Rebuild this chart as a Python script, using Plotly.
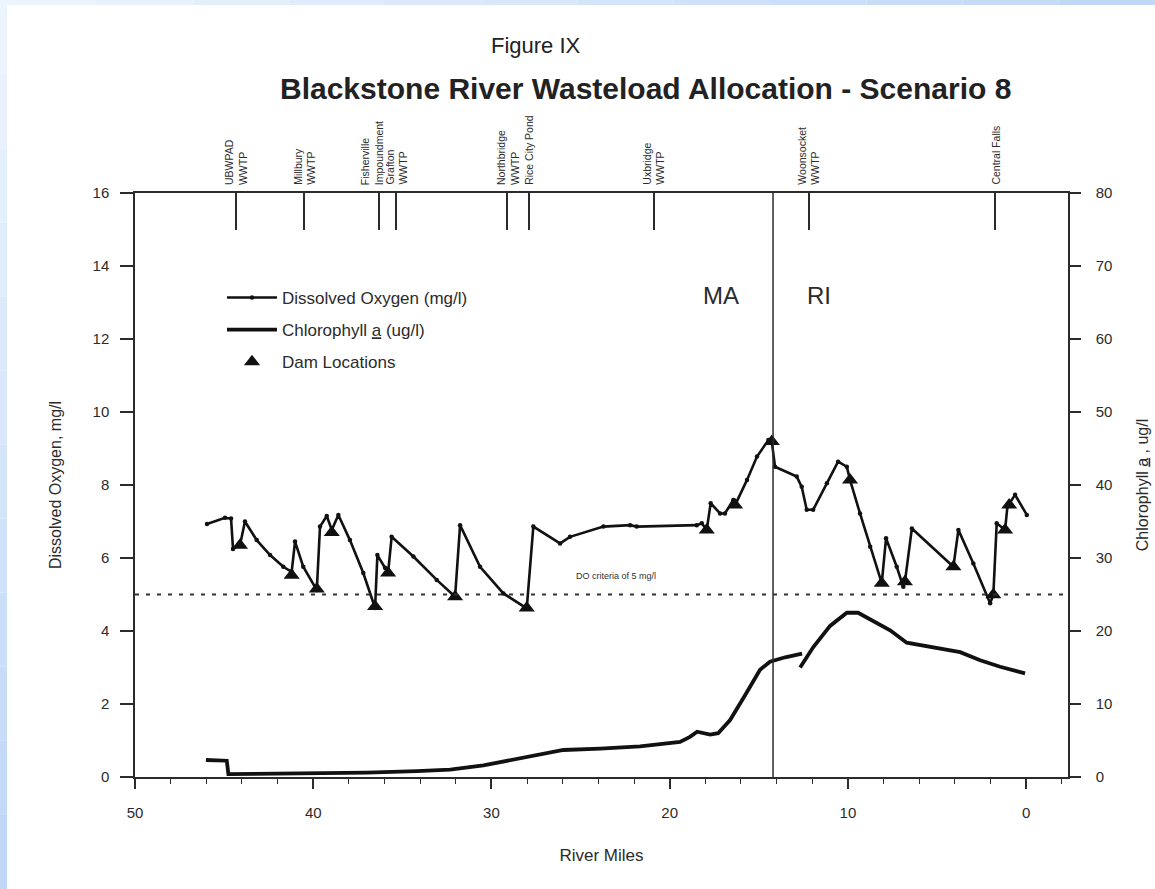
import plotly.graph_objects as go

# ---------------- data ----------------
do_miles = [45.96, 44.95, 44.61, 44.5, 44.11, 43.83, 43.17, 42.42, 41.68, 41.21,
            41.02, 40.56, 39.8, 39.62, 39.24, 38.96, 38.59, 37.94, 37.19, 36.53,
            36.4, 35.97, 35.8, 35.6, 34.38, 33.07, 32.04, 31.76, 30.64, 29.33,
            28.02, 27.65, 26.15, 25.59, 23.72, 22.22, 21.85, 18.48, 18.2, 17.92,
            17.7, 17.17, 16.9, 16.43, 16.33, 15.66, 15.1, 14.46, 14.27, 14.09,
            12.87, 12.59, 12.31, 11.95, 11.18, 10.55, 10.06, 9.88, 9.32, 8.75,
            8.1, 7.86, 7.26, 6.89, 6.8, 6.41, 4.08, 3.8, 2.96, 2.02,
            1.84, 1.65, 1.18, 1.05, 0.62, -0.04]
do_values = [6.93, 7.1, 7.08, 6.25, 6.35, 7.0, 6.49, 6.08, 5.76, 5.62,
             6.45, 5.76, 5.12, 6.86, 7.15, 6.77, 7.18, 6.49, 5.59, 4.63,
             6.08, 5.73, 5.59, 6.58, 6.04, 5.40, 4.94, 6.90, 5.76, 5.03,
             4.62, 6.86, 6.40, 6.58, 6.86, 6.90, 6.86, 6.90, 6.95, 6.77,
             7.50, 7.22, 7.22, 7.59, 7.45, 8.14, 8.78, 9.23, 9.19, 8.50,
             8.23, 7.95, 7.32, 7.32, 8.05, 8.64, 8.50, 8.14, 7.22, 6.31,
             5.31, 6.54, 5.76, 5.21, 5.35, 6.81, 5.76, 6.77, 5.85, 4.76,
             4.99, 6.95, 6.77, 7.41, 7.73, 7.18]

chl_miles = [46.02, 44.85, 44.76, 40.74, 37.0, 34.19, 32.32, 30.45, 28.58, 27.27,
             25.96, 23.9, 21.66, 19.42, 18.86, 18.46, 17.73, 17.28, 16.61, 15.77,
             14.93, 14.37, 13.52, 12.57, None,
             12.68, 11.94, 11.0, 10.06, 9.43, 8.75, 7.63, 6.7, 4.45, 3.7,
             2.58, 1.46, 0.06]
chl_values = [2.33, 2.23, 0.4, 0.45, 0.6, 0.8, 1.0, 1.6, 2.5, 3.2,
              3.7, 3.9, 4.2, 4.8, 5.5, 6.2, 5.8, 6.0, 7.8, 11.2,
              14.7, 15.8, 16.4, 16.9, None,
              15.0, 17.8, 20.7, 22.5, 22.5, 21.6, 20.1, 18.4, 17.4, 17.1,
              16.0, 15.1, 14.2]

dam_miles = [44.11, 41.21, 39.8, 38.96, 36.53, 35.8, 32.04, 28.02, 17.92, 16.33,
             14.27, 9.88, 8.1, 6.8, 4.08, 1.84, 1.18, 0.95]
dam_do = [6.35, 5.53, 5.15, 6.7, 4.67, 5.59, 4.94, 4.63, 6.77, 7.45,
          9.19, 8.14, 5.31, 5.35, 5.76, 4.99, 6.77, 7.45]

site_miles = [44.33, 40.5, 36.3, 35.35, 29.1, 27.9, 20.9, 12.2, 1.74]
site_labels = ["UBWPAD<br>WWTP", "Millbury<br>WWTP", "Fisherville<br>Impoundment",
               "Grafton<br>WWTP", "Northbridge<br>WWTP", "Rice City Pond",
               "Uxbridge<br>WWTP", "Woonsocket<br>WWTP", "Central Falls"]

state_line_mile = 14.2
do_criteria = 5
x_ticks = [50, 40, 30, 20, 10, 0]
do_ticks = [0, 2, 4, 6, 8, 10, 12, 14, 16]
chl_ticks = [0, 10, 20, 30, 40, 50, 60, 70, 80]

# label nudges (pixels) for crowded site labels
label_nudge = {"Fisherville<br>Impoundment": -7}

# ---------------- figure ----------------
FONT = "Arial, Liberation Sans, sans-serif"
INK = "#2b2b2b"
X_RANGE = [50, -2.35]

fig = go.Figure()

fig.add_trace(go.Scatter(
    x=do_miles, y=do_values, mode="lines+markers", name="Dissolved Oxygen (mg/l)",
    legendgroup="do",
    line=dict(color="#111", width=2.6), marker=dict(size=4.5, color="#111"),
    xaxis="x", yaxis="y"))
fig.add_trace(go.Scatter(
    x=chl_miles, y=chl_values, mode="lines", name="Chlorophyll <u>a</u> (ug/l)",
    legendgroup="chl",
    line=dict(color="#111", width=3.8), connectgaps=False,
    xaxis="x", yaxis="y2"))
fig.add_trace(go.Scatter(
    x=dam_miles, y=dam_do, mode="markers", name="Dam Locations",
    legendgroup="dam",
    marker=dict(symbol="triangle-up", size=14, color="#111"),
    xaxis="x", yaxis="y"))
# invisible trace to activate the top axis with site ticks
fig.add_trace(go.Scatter(
    x=site_miles, y=[None] * len(site_miles), mode="markers", showlegend=False,
    hoverinfo="skip", xaxis="x2", yaxis="y"))

L, R, T, B = 135, 87, 193, 112
W, H = 1155, 889
pw, ph = W - L - R, H - T - B

def px_x(p):
    return (p - L) / pw

def px_y(p):
    return (H - B - p) / ph

fig.update_layout(
    width=W, height=H,
    margin=dict(l=L, r=R, t=T, b=B, autoexpand=False),
    paper_bgcolor="white", plot_bgcolor="white",
    font=dict(family=FONT, color=INK, size=15),
    showlegend=True,
    legend=dict(x=px_x(222), y=px_y(280), xanchor="left", yanchor="top",
                bgcolor="rgba(0,0,0,0)", font=dict(size=17, color=INK),
                itemwidth=50, tracegroupgap=7, traceorder="grouped"),
    xaxis=dict(range=X_RANGE, tickvals=x_ticks, ticks="outside", ticklen=10,
               tickwidth=1.5, tickcolor=INK, showline=True, linecolor=INK,
               linewidth=1.5, showgrid=False, zeroline=False, automargin=False,
               tickfont=dict(size=15), ticklabelstandoff=11,
               minor=dict(dtick=2, ticks="outside", ticklen=5, tickcolor=INK,
                          tickwidth=1.2, showgrid=False),
               title=dict(text="River Miles", font=dict(size=17), standoff=29)),
    xaxis2=dict(range=X_RANGE, overlaying="x", side="top", anchor="y",
                tickvals=site_miles, showticklabels=False,
                ticks="inside", ticklen=37, tickwidth=1.5, tickcolor=INK,
                showline=True, linecolor=INK, linewidth=1.5, showgrid=False,
                zeroline=False, automargin=False),
    yaxis=dict(range=[0, 16], tickvals=do_ticks, ticks="outside", ticklen=13,
               tickwidth=1.5, tickcolor=INK, showline=True, linecolor=INK,
               linewidth=1.5, showgrid=False, zeroline=False, automargin=False,
               tickfont=dict(size=15), ticklabelstandoff=8,
               title=dict(text="Dissolved Oxygen, mg/l", font=dict(size=16),
                          standoff=27)),
    yaxis2=dict(range=[0, 80], tickvals=chl_ticks, ticks="outside", ticklen=11,
                tickwidth=1.5, tickcolor=INK, showline=True, linecolor=INK,
                linewidth=1.5, showgrid=False, zeroline=False, overlaying="y",
                side="right", anchor="x", automargin=False,
                tickfont=dict(size=15), ticklabelstandoff=12,
                title=dict(text="Chlorophyll <u>a</u> , ug/l", font=dict(size=16),
                           standoff=25)),
)

# site labels above the top axis, placed at the site river miles
for m, lab in zip(site_miles, site_labels):
    fig.add_annotation(x=m, y=1, xref="x2", yref="paper", text=lab,
                       textangle=-90, align="left", showarrow=False,
                       xanchor="center", yanchor="bottom",
                       xshift=label_nudge.get(lab, 0), yshift=6,
                       font=dict(size=10.5, color=INK))

# MA / RI state line
fig.add_shape(type="line", xref="x", yref="paper", x0=state_line_mile,
              x1=state_line_mile, y0=0, y1=1, line=dict(color=INK, width=1.5))
# DO criteria line
fig.add_shape(type="line", xref="paper", yref="y", x0=0, x1=1, y0=do_criteria,
              y1=do_criteria, line=dict(color="#333", width=2, dash="4px,7px"))

fig.add_annotation(x=23.0, y=do_criteria + 0.5, xref="x", yref="y",
                   text="DO criteria of 5 mg/l", showarrow=False,
                   font=dict(size=9, color="#333"))
fig.add_annotation(x=17.1, y=13.2, xref="x", yref="y", text="MA",
                   showarrow=False, font=dict(size=24, color=INK))
fig.add_annotation(x=11.6, y=13.2, xref="x", yref="y", text="RI",
                   showarrow=False, font=dict(size=24, color=INK))

fig.add_annotation(x=px_x(536), y=px_y(45), xref="paper", yref="paper",
                   xanchor="center", yanchor="middle",
                   text="Figure IX", showarrow=False,
                   font=dict(size=22, color="#222"))
fig.add_annotation(x=px_x(645), y=px_y(88), xref="paper", yref="paper",
                   xanchor="center", yanchor="middle",
                   text="<b>Blackstone River Wasteload Allocation - Scenario 8</b>",
                   showarrow=False, font=dict(size=30, color="#222"))

# light blue frame strips (left and top edges of the scanned page)
n = 12
def mix(t):
    a = (238, 245, 253)
    b = (190, 214, 246)
    c = [round(a[i] + (b[i] - a[i]) * t) for i in range(3)]
    return "rgb(%d,%d,%d)" % tuple(c)

for i in range(n):
    y0p = i * H / n
    y1p = (i + 1) * H / n
    fig.add_shape(type="rect", xref="paper", yref="paper", layer="below",
                  x0=px_x(0), x1=px_x(7), y0=px_y(y1p), y1=px_y(y0p),
                  line=dict(width=0), fillcolor=mix((i + 0.5) / n))
    x0p = i * W / n
    x1p = (i + 1) * W / n
    fig.add_shape(type="rect", xref="paper", yref="paper", layer="below",
                  x0=px_x(x0p), x1=px_x(x1p), y0=px_y(5), y1=px_y(0),
                  line=dict(width=0), fillcolor=mix((i + 0.5) / n))

fig.write_html("out.html", config={"displayModeBar": False},
               post_script="document.body.style.margin='0px';"
                           "document.body.style.overflow='hidden';")
